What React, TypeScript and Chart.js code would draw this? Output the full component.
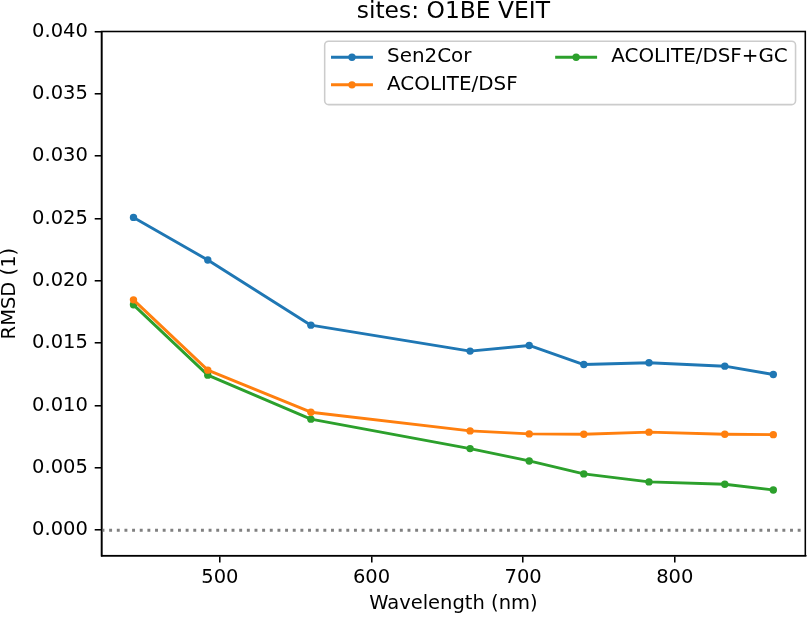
import { useEffect, useRef } from 'react';
import { Chart, registerables } from 'chart.js';

Chart.register(...registerables);

// Sentinel-2 band centres (nm) and RMSD per processor
const wavelengths  = [443, 492, 560, 665, 704, 740, 783, 833, 865];
const sen2cor      = [0.02509, 0.02167, 0.01645, 0.01437, 0.01482, 0.01329, 0.01343, 0.01316, 0.01249];
const acoliteDsf   = [0.01848, 0.01284, 0.00947, 0.00797, 0.00773, 0.00770, 0.00787, 0.00770, 0.00767];
const acoliteDsfGc = [0.01808, 0.01244, 0.00891, 0.00655, 0.00556, 0.00452, 0.00388, 0.00369, 0.00323];

const seriesLabels = ['Sen2Cor', 'ACOLITE/DSF', 'ACOLITE/DSF+GC'];
const xTicks = [500, 600, 700, 800];
const yTicks = [0, 0.005, 0.01, 0.015, 0.02, 0.025, 0.03, 0.035, 0.04];

const FONT = "'DejaVu Sans', sans-serif";
const FS   = 19.5;   // 10pt at the figure's dpi
const LFS  = 19.9;   // legend text renders a touch wider
const LW   = 2.92;   // 1.5pt lines
const SPINE = 1.56;
const DOT   = 3.7;

const zeroLine = {
  id: 'zeroLine',
  beforeDatasetsDraw(chart: any) {
    const { ctx, chartArea, scales } = chart;
    const y = scales.y.getPixelForValue(0);
    ctx.save();
    ctx.strokeStyle = '#808080';
    ctx.lineWidth   = LW;
    ctx.setLineDash([LW, LW * 1.62]);
    ctx.beginPath();
    ctx.moveTo(chartArea.left, y);
    ctx.lineTo(chartArea.right, y);
    ctx.stroke();
    ctx.restore();
  },
};

const frame = {
  id: 'frame',
  afterDatasetsDraw(chart: any) {
    const { ctx, chartArea: a } = chart;
    ctx.save();
    ctx.strokeStyle = '#000';
    ctx.lineWidth   = SPINE;
    ctx.strokeRect(a.left, a.top, a.right - a.left, a.bottom - a.top);
    ctx.restore();
  },
};

// matplotlib-like legend, 2 columns filled column-major, upper right
const mplLegend = {
  id: 'mplLegend',
  afterDraw(chart: any) {
    const { ctx, chartArea: a } = chart;
    const items = chart.data.datasets.map((ds: any) => ({ label: ds.label, color: ds.borderColor }));
    ctx.save();
    ctx.font = `${LFS}px ${FONT}`;
    const ncol = 2;
    const nrow = Math.ceil(items.length / ncol);
    const cols: any[][] = [];
    for (let c = 0; c < ncol; c++) cols.push(items.slice(c * nrow, (c + 1) * nrow));
    const colW = cols.map(col => Math.max(...col.map((it: any) => ctx.measureText(it.label).width)));

    const pad = 0.4 * FS, handle = 2 * FS, tpad = 0.8 * FS, cspace = 2 * FS;
    const width  = 2 * pad + colW.reduce((s, w) => s + handle + tpad + w, 0) + cspace * (ncol - 1);
    const height = 3.25 * FS;
    const right = a.right - 0.5 * FS;
    const top   = a.top + 0.5 * FS;
    const left  = right - width;

    ctx.beginPath();
    ctx.roundRect(left, top, width, height, 0.2 * FS);
    ctx.fillStyle = 'rgba(255,255,255,0.8)';
    ctx.fill();
    ctx.strokeStyle = '#cccccc';
    ctx.lineWidth   = SPINE;
    ctx.stroke();

    let x = left + pad;
    cols.forEach((col, c) => {
      col.forEach((it: any, r: number) => {
        const cy = top + 0.82 * FS + r * 1.415 * FS;
        ctx.strokeStyle = it.color;
        ctx.lineWidth   = LW;
        ctx.lineCap     = 'square';
        ctx.beginPath();
        ctx.moveTo(x, cy);
        ctx.lineTo(x + handle, cy);
        ctx.stroke();
        ctx.fillStyle = it.color;
        ctx.beginPath();
        ctx.arc(x + handle / 2, cy, DOT, 0, Math.PI * 2);
        ctx.fill();
        ctx.fillStyle    = '#000';
        ctx.textBaseline = 'middle';
        ctx.textAlign    = 'left';
        ctx.fillText(it.label, x + handle + tpad, cy);
      });
      x += handle + tpad + colW[c] + cspace;
    });
    ctx.restore();
  },
};

const axisStyle = {
  grid:   { display: true, drawOnChartArea: false, drawTicks: true, tickLength: 6.8, color: '#000', lineWidth: SPINE },
  border: { display: true, color: '#000', width: SPINE },
};

export default function App() {
  const canvasRef = useRef<HTMLCanvasElement>(null);
  const chartRef  = useRef<Chart | null>(null);

  useEffect(() => {
    document.body.style.margin = '0';
    if (!canvasRef.current) return;
    if (chartRef.current) { chartRef.current.destroy(); chartRef.current = null; }

    const colors = ['#1f77b4', '#ff7f0e', '#2ca02c'];
    const series = [sen2cor, acoliteDsf, acoliteDsfGc];

    chartRef.current = new Chart(canvasRef.current, {
      type: 'line',
      data: {
        datasets: series.map((vals, i) => ({
          label:                seriesLabels[i],
          data:                 wavelengths.map((w, j) => ({ x: w, y: vals[j] })),
          borderColor:          colors[i],
          backgroundColor:      colors[i],
          pointBackgroundColor: colors[i],
          borderWidth:          LW,
          borderJoinStyle:      'round',
          borderCapStyle:       'square',
          pointRadius:          DOT,
          pointHoverRadius:     DOT,
          pointBorderWidth:     0,
          tension:              0,
        })),
      },
      options: {
        animation:  false,
        responsive: false,
        events:     [],
        layout: { padding: { left: 0, right: 3.5, top: 0, bottom: 0 } },
        plugins: {
          legend:  { display: false },
          tooltip: { enabled: false },
          title: {
            display:  true,
            text:     'sites: O1BE VEIT',
            fullSize: false,
            color:    '#000',
            font:     { family: FONT, size: 23.4, weight: 'normal', lineHeight: 1 },
            padding:  { top: 0, bottom: 8.1 },
          },
        },
        scales: {
          x: {
            type: 'linear',
            min:  421.9,
            max:  886.1,
            ...axisStyle,
            afterBuildTicks: (s: any) => { s.ticks = xTicks.map(v => ({ value: v })); },
            afterFit:        (s: any) => { s.height = 61.3; },
            ticks: {
              color: '#000', padding: 4, maxRotation: 0, autoSkip: false,
              font:  { family: FONT, size: FS },
              callback: (v: any) => String(v),
            },
            title: {
              display: true, text: 'Wavelength (nm)', color: '#000',
              font:    { family: FONT, size: FS, lineHeight: 1 },
              padding: { top: 0, bottom: 2.95 },
            },
          },
          y: {
            type: 'linear',
            min:  -0.00204,
            max:  0.04,
            ...axisStyle,
            afterBuildTicks: (s: any) => { s.ticks = yTicks.map(v => ({ value: v })); },
            afterFit:        (s: any) => { s.width = 101.5; },
            ticks: {
              color: '#000', padding: 6.8, autoSkip: false,
              font:  { family: FONT, size: FS },
              callback: (v: any) => Number(v).toFixed(3),
            },
            title: {
              display: true, text: 'RMSD (1)', color: '#000',
              font:    { family: FONT, size: FS, lineHeight: 1 },
              padding: { top: 0.65, bottom: 0 },
            },
          },
        },
      },
      plugins: [zeroLine, frame, mplLegend],
    } as any);

    return () => { chartRef.current?.destroy(); chartRef.current = null; };
  }, []);

  return <canvas ref={canvasRef} width={809} height={617} style={{ display: 'block' }} />;
}
